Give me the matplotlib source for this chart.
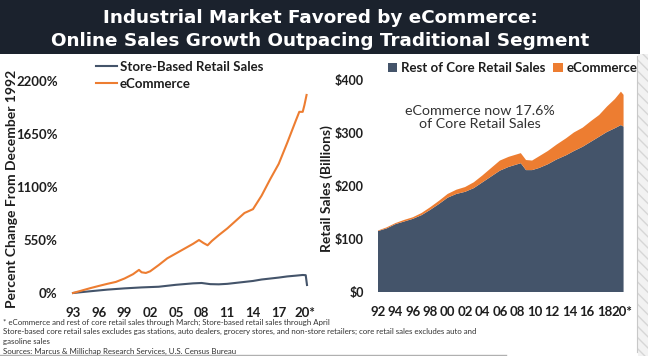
import matplotlib
matplotlib.use("Agg")
import matplotlib.pyplot as plt
from matplotlib.patches import Rectangle
from matplotlib.lines import Line2D

plt.rcParams["font.family"] = ["Lato", "DejaVu Sans"]

NAVY = "#44546A"
ORANGE = "#ED7D31"
INK = "#1e1e1e"

# left panel: percent change from Dec 1992
pct_years = [1993.0, 1994, 1995, 1996, 1997, 1998, 1999, 2000, 2000.7, 2001.0, 2001.5,
             2002, 2003, 2004, 2005, 2006, 2007, 2007.7, 2008.2, 2008.7, 2009.2, 2010,
             2011, 2012, 2013, 2013.5, 2014, 2015, 2016, 2017, 2018, 2019, 2019.4,
             2019.8, 2020.0, 2020.25]
ecom_pct = [0, 25, 50, 73, 95, 115, 150, 195, 240, 215, 208,
            225, 290, 360, 410, 460, 510, 550, 520, 495, 540, 600,
            670, 750, 830, 850, 870, 1010, 1180, 1340, 1560, 1790, 1880,
            1880, 1950, 2055]

store_years = [1993.0, 1995, 1997, 1999, 2001, 2003, 2005, 2007, 2008, 2009, 2010, 2011,
               2012, 2013, 2014, 2015, 2016, 2017, 2018, 2019, 2019.8, 2020.15, 2020.3]
store_pct = [0, 18, 35, 48, 58, 65, 85, 100, 104, 92, 90, 95,
             105, 115, 125, 140, 150, 160, 172, 180, 187, 185, 83]

left_ticks = [1993, 1996, 1999, 2002, 2005, 2008, 2011, 2014, 2017, 2020]
left_tick_labels = ["93", "96", "99", "02", "05", "08", "11", "14", "17", "20*"]
pct_ticks = [0, 550, 1100, 1650, 2200]

# right panel: monthly core retail sales, billions
sales_years = [1992.0, 1993, 1994, 1995, 1996, 1997, 1998, 1999, 2000, 2001, 2002, 2003,
               2004, 2005, 2006, 2007, 2008.4, 2009.0, 2009.7, 2010.5, 2011.5, 2012.5,
               2013.6, 2014.5, 2015.5, 2016.5, 2017.4, 2018.3, 2019.2, 2019.9, 2020.2]
rest_sales = [115, 120, 128, 133, 138, 145, 155, 166, 178, 185, 189, 196,
              207, 218, 229, 236, 243, 230, 230, 234, 241, 250,
              258, 266, 274, 284, 293, 302, 309, 315, 312]
ecom_sales = [1, 2, 2, 3, 3, 4, 5, 6, 7, 8, 9, 11,
              13, 16, 19, 19, 19, 19, 18, 22, 25, 28,
              32, 35, 36, 39, 41, 48, 55, 63, 60]

right_ticks = list(range(1992, 2021, 2))
right_tick_labels = ["92", "94", "96", "98", "00", "02", "04", "06", "08", "10",
                     "12", "14", "16", "18", "20*"]
usd_ticks = [0, 100, 200, 300, 400]

W, H = 648, 356
fig = plt.figure(figsize=(W / 100, H / 100), dpi=100)


def fx(px):
    return px / W


def fy(py):
    return 1 - py / H


# title banner and right border strip
fig.patches.append(Rectangle((0, fy(54)), fx(640), 54 / H, transform=fig.transFigure,
                             facecolor="#1b222d", edgecolor="none", zorder=0))
fig.patches.append(Rectangle((fx(638), 0), fx(10), fy(54), transform=fig.transFigure,
                             facecolor="#f2f2f2", edgecolor="#d6d6d6", hatch="\\\\\\",
                             lw=0, zorder=0))
fig.add_artist(Line2D([fx(637), fx(637)], [fy(352), fy(56)], color="#c8c8c8", lw=0.8))
fig.add_artist(Line2D([0, fx(506)], [fy(355), fy(355)], color="#b0b0b0", lw=1.0))

for i, line in enumerate(["Industrial Market Favored by eCommerce:",
                          "Online Sales Growth Outpacing Traditional Segment"]):
    fig.text(fx(320), fy(18 + 23 * i), line, color="white", fontsize=13.2,
             fontweight="bold", ha="center", va="center", family="DejaVu Sans")

# left chart
ax1 = fig.add_axes([fx(73), fy(293), fx(234), 212 / H])
ax1.plot(store_years, store_pct, color=NAVY, lw=1.5, label="Store-Based Retail Sales", clip_on=False)
ax1.plot(pct_years, ecom_pct, color=ORANGE, lw=1.5, label="eCommerce", clip_on=False)
ax1.set_xlim(1993.0, 2020.3)
ax1.set_ylim(0, 2200)
ax1.set_yticks(pct_ticks)
ax1.set_yticklabels([f"{v}%" for v in pct_ticks])
ax1.set_xticks(left_ticks)
ax1.set_xticklabels(left_tick_labels)
ax1.set_ylabel("Percent Change From December 1992", fontsize=10, fontweight="bold", color=INK)
ax1.yaxis.set_label_coords((18 - 73) / 234, 0.49)
ax1.legend(loc="upper left", bbox_to_anchor=(fx(96), fy(61)), bbox_transform=fig.transFigure,
           frameon=False, borderpad=0, borderaxespad=0, handlelength=1.6, handletextpad=0.2,
           labelspacing=0.35, prop={"size": 9.5, "weight": "bold"}, labelcolor=INK)

# right chart
ax2 = fig.add_axes([fx(378), fy(292), fx(246), 212 / H])
ax2.stackplot(sales_years, rest_sales, ecom_sales, colors=[NAVY, ORANGE],
              labels=["Rest of Core Retail Sales", "eCommerce"], lw=0)
ax2.set_xlim(1992.0, 2020.25)
ax2.set_ylim(0, 400)
ax2.set_yticks(usd_ticks)
ax2.set_yticklabels([f"${v}" for v in usd_ticks])
ax2.set_xticks(right_ticks)
ax2.set_xticklabels(right_tick_labels)
ax2.set_ylabel("Retail Sales (Billions)", fontsize=10, fontweight="bold", color=INK)
ax2.yaxis.set_label_coords((333 - 378) / 246, 0.49)
ax2.legend(loc="upper left", bbox_to_anchor=(fx(388), fy(62)), bbox_transform=fig.transFigure,
           ncol=2, frameon=False, borderpad=0, borderaxespad=0, handlelength=0.7,
           handleheight=0.7, handletextpad=0.3, columnspacing=0.6,
           prop={"size": 9.5, "weight": "bold"}, labelcolor=INK)
ax2.text(2003.7, 330, "eCommerce now 17.6%\nof Core Retail Sales", ha="center", va="center",
         fontsize=10.3, color="#333333", linespacing=1.1)

for ax in (ax1, ax2):
    for s in ax.spines.values():
        s.set_visible(False)
    ax.tick_params(length=0, labelsize=9.5, labelcolor=INK)
    ax.tick_params(axis="x", pad=10)
    ax.tick_params(axis="y", pad=11)
    for lab in ax.get_xticklabels() + ax.get_yticklabels():
        lab.set_fontweight("bold")
    ax.set_facecolor("none")
ax2.tick_params(axis="y", labelsize=9, pad=10)

notes = [
    "* eCommerce and rest of core retail sales through March; Store-based retail sales through April",
    "Store-based core retail sales excludes gas stations, auto dealers, grocery stores, and non-store retailers; core retail sales excludes auto and",
    "gasoline sales",
    "Sources: Marcus & Millichap Research Services, U.S. Census Bureau",
]
for i, line in enumerate(notes):
    fig.text(fx(3), fy(322 + 9.7 * i), line, fontsize=5.7, color="#333333", va="center")

fig.savefig("out.png", dpi=100)
